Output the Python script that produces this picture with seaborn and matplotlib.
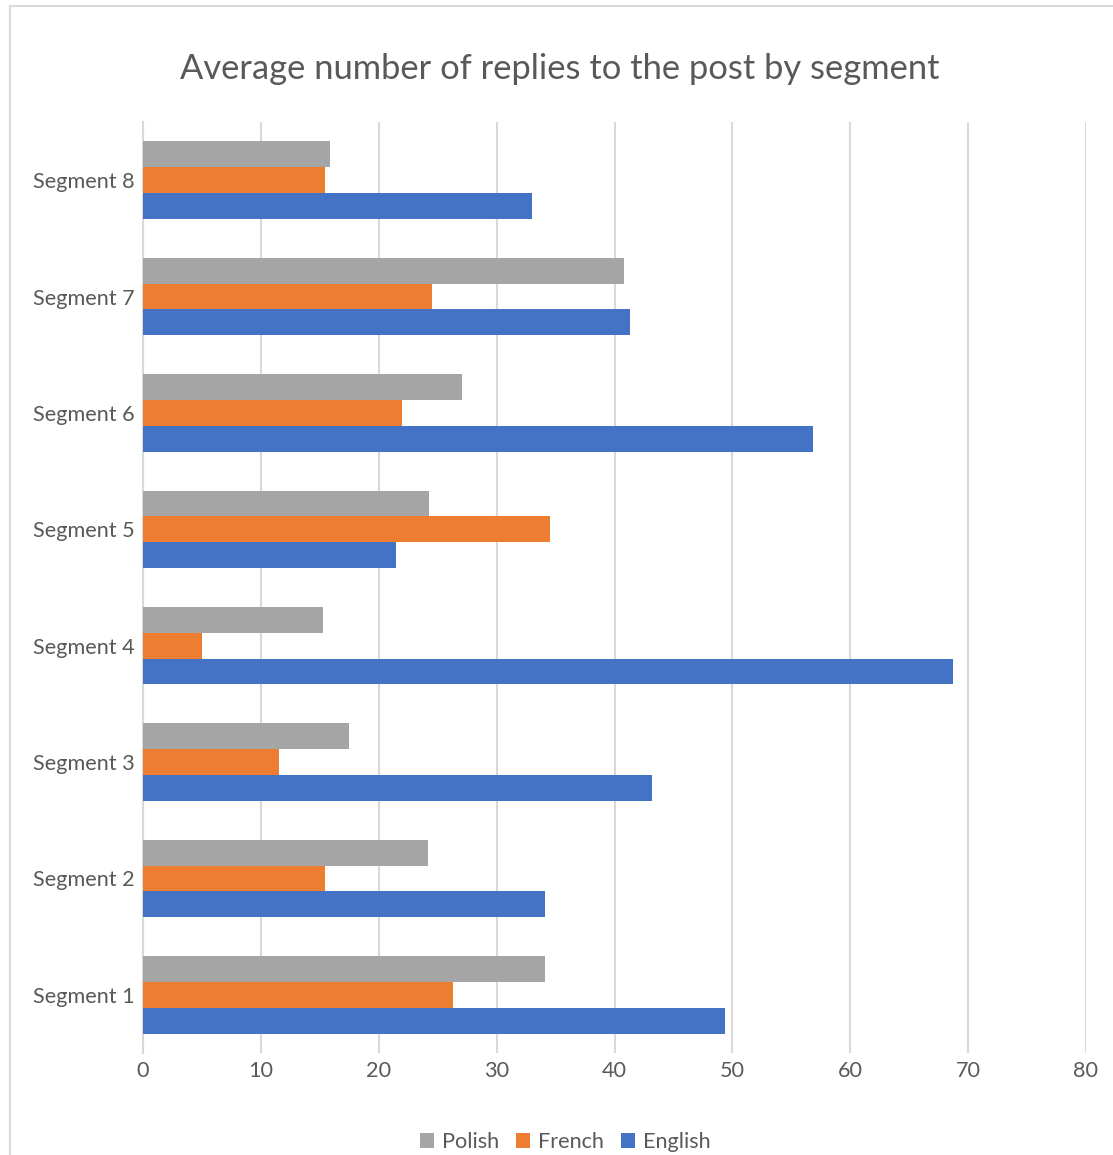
import matplotlib
matplotlib.use("Agg")
import matplotlib.pyplot as plt
import seaborn as sns
import pandas as pd
from matplotlib.patches import Rectangle, Patch

segments = ["Segment 8", "Segment 7", "Segment 6", "Segment 5",
            "Segment 4", "Segment 3", "Segment 2", "Segment 1"]
polish = [15.9, 40.8, 27.1, 24.3, 15.3, 17.5, 24.2, 34.1]
french = [15.4, 24.5, 22.0, 34.5, 5.0, 11.5, 15.4, 26.3]
english = [33.0, 41.3, 56.8, 21.5, 68.7, 43.2, 34.1, 49.4]
languages = ["Polish", "French", "English"]
colors = ["#A5A5A5", "#ED7D31", "#4472C4"]
x_ticks = [0, 10, 20, 30, 40, 50, 60, 70, 80]

df = pd.DataFrame({
    "segment": segments * 3,
    "language": [languages[0]] * 8 + [languages[1]] * 8 + [languages[2]] * 8,
    "replies": polish + french + english,
})

sns.set_theme(style="white")
plt.rcParams["font.family"] = ["Lato", "DejaVu Sans"]
text_color = "#595959"
grid_color = "#D9D9D9"

fig = plt.figure(figsize=(11.13, 11.55), dpi=100)
fig.patches.append(Rectangle((10 / 1113, -0.1), 1.2, 1 - 6 / 1155 + 0.1,
                             transform=fig.transFigure, fill=False,
                             edgecolor="#D9D9D9", linewidth=1.5))

ax = fig.add_axes([143 / 1113, 1 - 1053 / 1155, (1086 - 143) / 1113, (1053 - 122) / 1155])
sns.barplot(data=df, y="segment", x="replies", hue="language",
            order=segments, hue_order=languages, palette=colors,
            orient="h", width=0.667, gap=0, saturation=1, linewidth=0,
            errorbar=None, legend=False, ax=ax, zorder=3)

ax.set_xlim(0, 80)
ax.set_ylim(7.5, -0.5)
ax.set_xticks(x_ticks)
ax.set_xticklabels([str(t) for t in x_ticks])
ax.xaxis.grid(True, color=grid_color, linewidth=1.5, zorder=0)
ax.set_axisbelow(True)
for s in ["top", "right", "bottom"]:
    ax.spines[s].set_visible(False)
ax.spines["left"].set_color(grid_color)
ax.spines["left"].set_linewidth(1.5)
ax.set_xlabel("")
ax.set_ylabel("")
ax.tick_params(axis="both", length=0, labelsize=15.6, labelcolor=text_color)
ax.tick_params(axis="x", pad=6)
ax.tick_params(axis="y", pad=6)

fig.text(560 / 1113, 1 - 69 / 1155, "Average number of replies to the post by segment",
         ha="center", va="center", fontsize=24.8, color=text_color)

handles = [Patch(facecolor=c, edgecolor="none") for c in colors]
fig.legend(handles, languages, loc="center", bbox_to_anchor=(565 / 1113, 1 - 1142 / 1155),
           ncol=3, frameon=False, fontsize=15.6, labelcolor=text_color,
           handlelength=0.65, handleheight=0.65, handletextpad=0.35, columnspacing=0.8)

fig.savefig("out.png", dpi=100, facecolor="white")
